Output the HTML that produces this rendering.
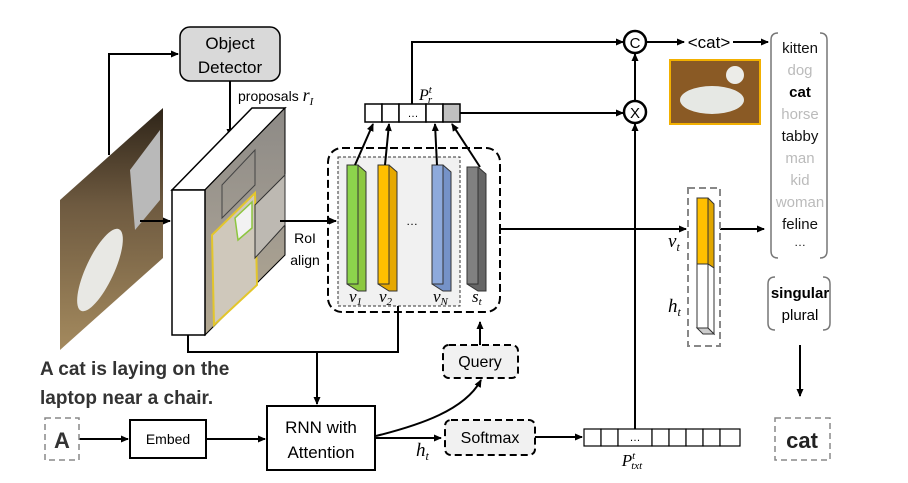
<!DOCTYPE html>
<html><head><meta charset="utf-8"><style>
html,body{margin:0;padding:0;background:#fff;}
svg{display:block;font-family:"Liberation Sans",sans-serif;}
</style></head><body>
<svg width="908" height="483" viewBox="0 0 908 483" xmlns="http://www.w3.org/2000/svg">
<defs>
<marker id="a" markerWidth="8" markerHeight="8" refX="7" refY="4" orient="auto" markerUnits="userSpaceOnUse"><path d="M0,0.5 L8,4 L0,7.5z" fill="#000"/></marker>
<linearGradient id="ph" x1="0" y1="0" x2="0" y2="1"><stop offset="0" stop-color="#2e2418"/><stop offset="0.4" stop-color="#6e5a40"/><stop offset="1" stop-color="#a48a5e"/></linearGradient>
<linearGradient id="ph2" x1="0" y1="0" x2="0" y2="1"><stop offset="0" stop-color="#8d8a86"/><stop offset="0.5" stop-color="#a09a90"/><stop offset="1" stop-color="#b3a891"/></linearGradient>
</defs>
<g stroke="#000" stroke-width="2" fill="none">
<path d="M109,155 V54 H178" marker-end="url(#a)"/>
<path d="M230,81 V136" marker-end="url(#a)"/>
</g>
<rect x="180" y="27" width="100" height="54" rx="10" fill="#d9d9d9" stroke="#000" stroke-width="1.5"/>
<text x="230" y="49" font-size="17" text-anchor="middle">Object</text>
<text x="230" y="73" font-size="17" text-anchor="middle">Detector</text>
<text x="238" y="101" font-size="14">proposals <tspan font-family="Liberation Serif" font-style="italic" font-size="18">r</tspan><tspan font-family="Liberation Serif" font-style="italic" font-size="11" dy="4">I</tspan></text>
<polygon points="60,200 163,108 163,258 60,350" fill="url(#ph)"/>
<ellipse cx="100" cy="270" rx="14" ry="45" fill="#e8e8e4" transform="rotate(25 100 270)"/>
<polygon points="130,170 160,130 160,200 135,230" fill="#b9b9b9"/>
<polygon points="172,190 252,108 285,108 205,190" fill="#fff" stroke="#000" stroke-width="1.5"/>
<polygon points="205,190 285,108 285,255 205,335" fill="url(#ph2)" stroke="#000" stroke-width="1"/>
<rect x="172" y="190" width="33" height="145" fill="#fff" stroke="#000" stroke-width="1.5"/>
<polygon points="212,235 255,193 257,285 214,325" fill="#cfc8bb" stroke="#e3c62c" stroke-width="2"/>
<polygon points="235,218 252,202 252,228 238,240" fill="#f2f2f2" stroke="#8dc63f" stroke-width="1.5"/>
<polygon points="222,185 255,150 255,185 222,218" fill="none" stroke="#444" stroke-width="1"/>
<polygon points="255,205 285,175 285,225 255,258" fill="#bdb9b2" stroke="#333" stroke-width="1"/>
<g stroke="#000" stroke-width="2" fill="none">
<path d="M140,221 H170" marker-end="url(#a)"/>
<path d="M280,221 H336" marker-end="url(#a)"/>
</g>
<text x="305" y="243" font-size="14" text-anchor="middle">RoI</text>
<text x="305" y="265" font-size="14" text-anchor="middle">align</text>
<rect x="328" y="148" width="172" height="164" rx="14" fill="none" stroke="#000" stroke-width="2" stroke-dasharray="8,4"/>
<rect x="338" y="157" width="122" height="149" fill="#f1f1f1" stroke="#333" stroke-width="1" stroke-dasharray="3,2"/>
<g stroke="#333" stroke-width="1">
<polygon points="347,165 358,165 366,172 366,291 358,291 347,284" fill="#8cc840"/><rect x="347" y="165" width="11" height="119" fill="#8cd44c"/>
<polygon points="378,165 389,165 397,172 397,291 389,291 378,284" fill="#e6a800"/><rect x="378" y="165" width="11" height="119" fill="#ffc000"/>
<polygon points="432,165 443,165 451,172 451,291 443,291 432,284" fill="#7592c8"/><rect x="432" y="165" width="11" height="119" fill="#8eaadc"/>
<polygon points="467,167 478,167 486,174 486,291 478,291 467,284" fill="#666"/><rect x="467" y="167" width="11" height="117" fill="#808080"/>
</g>
<text x="412" y="225" font-size="12" text-anchor="middle">…</text>
<g font-family="Liberation Serif" font-style="italic" font-size="17">
<text x="349" y="302">v<tspan font-size="11" dy="3">1</tspan></text>
<text x="379" y="302">v<tspan font-size="11" dy="3">2</tspan></text>
<text x="433" y="302">v<tspan font-size="11" dy="3">N</tspan></text>
<text x="472" y="302">s<tspan font-size="11" dy="3">t</tspan></text>
</g>
<g stroke="#000" stroke-width="1.5">
<rect x="365" y="104" width="17" height="18" fill="#fff"/>
<rect x="382" y="104" width="17" height="18" fill="#fff"/>
<rect x="399" y="104" width="27" height="18" fill="#fff"/>
<rect x="426" y="104" width="17" height="18" fill="#fff"/>
<rect x="443" y="104" width="17" height="18" fill="#c0c0c0"/>
</g>
<text x="413" y="117" font-size="11" text-anchor="middle">…</text>
<text x="419" y="100" font-family="Liberation Serif" font-style="italic" font-size="16">P<tspan font-size="11" dy="-7">t</tspan><tspan font-size="11" dx="-4" dy="10">r</tspan></text>
<g stroke="#000" stroke-width="2" fill="none">
<path d="M355,165 L373,124" marker-end="url(#a)"/>
<path d="M385,165 L389,124" marker-end="url(#a)"/>
<path d="M437,165 L435,124" marker-end="url(#a)"/>
<path d="M480,167 L452,124" marker-end="url(#a)"/>
<path d="M412,104 V42 H623" marker-end="url(#a)"/>
<path d="M460,113 H623" marker-end="url(#a)"/>
<path d="M635,429 V124" marker-end="url(#a)"/>
<path d="M635,102 V54" marker-end="url(#a)"/>
<path d="M645,42 H684" marker-end="url(#a)"/>
<path d="M733,42 H768" marker-end="url(#a)"/>
<path d="M500,229 H686" marker-end="url(#a)"/>
<path d="M500,224 V234"/>
<path d="M720,229 H764" marker-end="url(#a)"/>
<path d="M800,345 V396" marker-end="url(#a)"/>
<path d="M188,335 V352 H398 V306"/>
<path d="M317,352 V404" marker-end="url(#a)"/>
<path d="M79,439 H128" marker-end="url(#a)"/>
<path d="M206,439 H265" marker-end="url(#a)"/>
<path d="M376,438 H441" marker-end="url(#a)"/>
<path d="M376,436 C420,425 465,410 481,380" marker-end="url(#a)"/>
<path d="M480,345 V322" marker-end="url(#a)"/>
<path d="M535,437 H582" marker-end="url(#a)"/>
</g>
<circle cx="635" cy="42" r="11" fill="#fff" stroke="#000" stroke-width="2.5"/>
<text x="635" y="48" font-size="15" text-anchor="middle">C</text>
<circle cx="635" cy="112" r="11" fill="#fff" stroke="#000" stroke-width="2.5"/>
<text x="635" y="118" font-size="15" text-anchor="middle">X</text>
<text x="709" y="48" font-size="17" text-anchor="middle">&lt;cat&gt;</text>
<rect x="670" y="60" width="90" height="64" fill="#8a5a25" stroke="#f2b000" stroke-width="2"/>
<ellipse cx="712" cy="100" rx="32" ry="14" fill="#e6e8e4"/>
<circle cx="735" cy="75" r="9" fill="#ecece8"/>
<path d="M778,33 Q771,33 771,40 V251 Q771,258 778,258 M820,33 Q827,33 827,40 V251 Q827,258 820,258" fill="none" stroke="#777" stroke-width="1.5"/>
<g font-size="15" text-anchor="middle">
<text x="800" y="53" fill="#111">kitten</text>
<text x="800" y="75" fill="#bbb">dog</text>
<text x="800" y="97" font-weight="bold">cat</text>
<text x="800" y="119" fill="#bbb">horse</text>
<text x="800" y="141" fill="#111">tabby</text>
<text x="800" y="163" fill="#bbb">man</text>
<text x="800" y="185" fill="#bbb">kid</text>
<text x="800" y="207" fill="#bbb">woman</text>
<text x="800" y="229" fill="#111">feline</text>
<text x="800" y="246" fill="#111" font-size="12">…</text>
</g>
<path d="M775,277 Q768,277 768,284 V323 Q768,330 775,330 M823,277 Q830,277 830,284 V323 Q830,330 823,330" fill="none" stroke="#777" stroke-width="1.5"/>
<text x="800" y="298" font-size="15" font-weight="bold" text-anchor="middle">singular</text>
<text x="800" y="320" font-size="15" text-anchor="middle">plural</text>
<rect x="775" y="418" width="55" height="42" fill="none" stroke="#888" stroke-width="1.5" stroke-dasharray="6,4"/>
<text x="802" y="448" font-size="22" font-weight="bold" text-anchor="middle" fill="#222">cat</text>
<rect x="688" y="188" width="32" height="158" fill="none" stroke="#888" stroke-width="2" stroke-dasharray="7,4"/>
<polygon points="697,198 708,198 714,204 714,268 708,264" fill="#e0a600" stroke="#333" stroke-width="1"/>
<rect x="697" y="198" width="11" height="66" fill="#ffc000" stroke="#333" stroke-width="1"/>
<polygon points="708,264 714,268 714,334 708,328" fill="#fff" stroke="#333" stroke-width="1"/>
<polygon points="697,328 708,328 714,334 703,334" fill="#ccc" stroke="#333" stroke-width="1"/>
<rect x="697" y="264" width="11" height="64" fill="#fff" stroke="#333" stroke-width="1"/>
<g font-family="Liberation Serif" font-style="italic" font-size="19">
<text x="668" y="247">v<tspan font-size="12" dy="4">t</tspan></text>
<text x="668" y="312">h<tspan font-size="12" dy="4">t</tspan></text>
<text x="416" y="456">h<tspan font-size="12" dy="4">t</tspan></text>
</g>
<text x="40" y="375" font-size="19" font-weight="bold" fill="#333">A cat is laying on the</text>
<text x="40" y="404" font-size="19" font-weight="bold" fill="#333">laptop near a chair.</text>
<rect x="45" y="418" width="34" height="42" fill="none" stroke="#888" stroke-width="1.5" stroke-dasharray="6,4"/>
<text x="62" y="448" font-size="22" font-weight="bold" text-anchor="middle" fill="#333">A</text>
<rect x="130" y="420" width="76" height="38" fill="#fff" stroke="#000" stroke-width="2"/>
<text x="168" y="444" font-size="14" text-anchor="middle">Embed</text>
<rect x="267" y="406" width="108" height="64" fill="#fff" stroke="#000" stroke-width="2"/>
<text x="321" y="433" font-size="17" text-anchor="middle">RNN with</text>
<text x="321" y="458" font-size="17" text-anchor="middle">Attention</text>
<rect x="443" y="345" width="75" height="33" rx="6" fill="#f1f1f1" stroke="#000" stroke-width="2" stroke-dasharray="7,4"/>
<text x="480" y="367" font-size="16" text-anchor="middle">Query</text>
<rect x="445" y="420" width="90" height="35" rx="6" fill="#f1f1f1" stroke="#000" stroke-width="2" stroke-dasharray="7,4"/>
<text x="490" y="443" font-size="16" text-anchor="middle">Softmax</text>
<g stroke="#000" stroke-width="1.2" fill="#fff">
<rect x="584" y="429" width="17" height="17"/><rect x="601" y="429" width="17" height="17"/><rect x="618" y="429" width="34" height="17"/><rect x="652" y="429" width="17" height="17"/><rect x="669" y="429" width="17" height="17"/><rect x="686" y="429" width="17" height="17"/><rect x="703" y="429" width="17" height="17"/><rect x="720" y="429" width="20" height="17"/>
</g>
<text x="635" y="441" font-size="11" text-anchor="middle">…</text>
<text x="632" y="466" font-family="Liberation Serif" font-style="italic" font-size="17" text-anchor="middle">P<tspan font-size="11" dy="-7">t</tspan><tspan font-size="11" dx="-4" dy="10">txt</tspan></text>
</svg>
</body></html>
